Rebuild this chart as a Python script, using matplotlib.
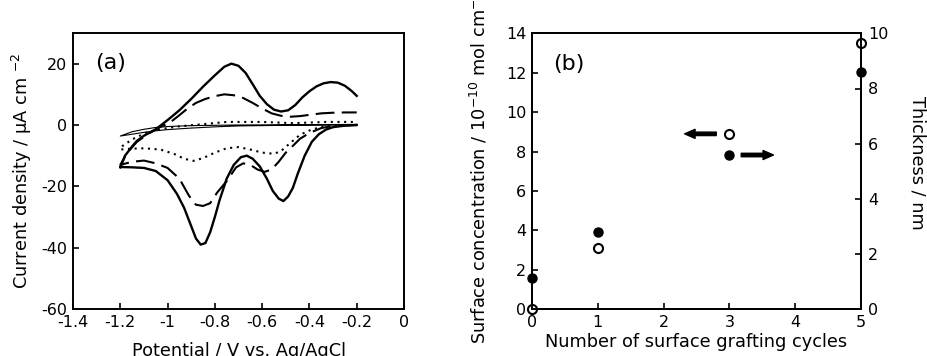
import numpy as np
import matplotlib
matplotlib.use('Agg')
import matplotlib.pyplot as plt

# DejaVu has the wide Helvetica-ish metrics of the original
plt.rcParams['font.family'] = ['DejaVu Sans']
plt.rcParams['mathtext.default'] = 'regular'

# ---- panel (a): cyclic voltammograms (potential V, current uA/cm2) ----
# thick solid curve, cathodic sweep (-0.2 -> -1.2)
thick_low_x = [-0.2, -0.25, -0.3, -0.33, -0.36, -0.39, -0.42, -0.45, -0.47, -0.49, -0.51, -0.53,
               -0.555, -0.58, -0.61, -0.64, -0.665, -0.69, -0.72, -0.75, -0.78, -0.8, -0.82,
               -0.84, -0.86, -0.88, -0.9, -0.93, -0.96, -1.0, -1.05, -1.1, -1.15, -1.2]
thick_low_y = [0, -0.2, -0.7, -1.5, -3, -5.5, -10, -16, -20.5, -23.3, -24.8, -24, -21.5, -17.5,
               -13.5, -11, -10, -10.5, -13, -17.5, -24.5, -30, -35, -38.5, -39, -37, -33, -27,
               -22.5, -18, -15, -14, -13.8, -13.7]
# thick solid curve, anodic sweep (-1.2 -> -0.2)
thick_up_x = [-1.2, -1.18, -1.15, -1.13, -1.1, -1.05, -1.0, -0.95, -0.9, -0.85, -0.8, -0.76,
              -0.73, -0.7, -0.67, -0.64, -0.61, -0.58, -0.55, -0.52, -0.49, -0.46, -0.43, -0.4,
              -0.37, -0.34, -0.31, -0.28, -0.25, -0.22, -0.2]
thick_up_y = [-13.9, -10, -7, -5.2, -3.5, -1.4, 1.6, 4.8, 8.5, 12.5, 16.2, 19, 20, 19.3, 17,
              13.3, 9.5, 6.8, 5, 4.4, 4.8, 6.5, 9, 11, 12.6, 13.6, 14, 13.8, 12.8, 11, 9.5]

# dashed curve
dash_low_x = [-0.2, -0.3, -0.35, -0.4, -0.44, -0.47, -0.5, -0.53, -0.56, -0.59, -0.62, -0.65,
              -0.68, -0.71, -0.75, -0.79, -0.82, -0.85, -0.88, -0.91, -0.95, -1.0, -1.05, -1.1,
              -1.15, -1.2]
dash_low_y = [0, -0.3, -1, -2.6, -4.5, -6.8, -9, -12, -14.5, -15.3, -14.5, -13, -12.5, -13.8,
              -18.3, -22, -25.5, -26.4, -26, -23, -17.5, -14, -12.5, -11.6, -12, -13]
dash_up_x = [-1.2, -1.17, -1.13, -1.08, -1.03, -0.99, -0.95, -0.92, -0.88, -0.84, -0.8, -0.76,
             -0.72, -0.68, -0.64, -0.6, -0.56, -0.52, -0.48, -0.44, -0.4, -0.35, -0.3, -0.25, -0.2]
dash_up_y = [-13, -9, -5.5, -2.8, -0.6, 0.8, 3.2, 5.1, 7.2, 8.5, 9.4, 10, 9.7, 8.8, 7.2, 5.4,
             3.8, 3, 2.7, 2.9, 3.3, 3.8, 4, 4.1, 4.1]

# dotted curve
dot_low_x = [-0.2, -0.3, -0.36, -0.4, -0.44, -0.48, -0.52, -0.55, -0.6, -0.65, -0.7, -0.75,
             -0.8, -0.85, -0.89, -0.93, -0.97, -1.03, -1.1, -1.15, -1.2]
dot_low_y = [0, -0.2, -0.8, -1.8, -3.2, -5.8, -8.5, -9.4, -9, -8, -7.2, -7.6, -9, -10.8,
             -11.7, -11, -9.5, -8, -7.6, -7.7, -8]
dot_up_x = [-1.2, -1.19, -1.15, -1.09, -1.03, -0.96, -0.86, -0.75, -0.6, -0.47, -0.33, -0.2]
dot_up_y = [-8, -6.8, -4.7, -2.5, -1.4, -0.5, 0.2, 1.0, 1.0, 0.6, 1.0, 1.0]

# thin solid curve (blank)
thin_low_x = [-0.2, -0.5, -0.7, -0.8, -0.9, -1.0, -1.05, -1.1, -1.15, -1.2]
thin_low_y = [0, -0.1, -0.3, -0.6, -1.0, -1.5, -1.9, -2.4, -3.0, -3.6]
thin_up_x = [-1.2, -1.15, -1.1, -1.05, -1.0, -0.9, -0.7, -0.2]
thin_up_y = [-3.6, -2.2, -1.4, -0.8, -0.5, -0.2, 0, 0.2]

xticks_a = [-1.4, -1.2, -1.0, -0.8, -0.6, -0.4, -0.2, 0]
xticklabels_a = ["-1.4", "-1.2", "-1", "-0.8", "-0.6", "-0.4", "-0.2", "0"]
yticks_a = [-60, -40, -20, 0, 20]
yticklabels_a = ["-60", "-40", "-20", "0", "20"]

# ---- panel (b): surface concentration / thickness vs grafting cycles ----
cycles = [0, 1, 3, 5]
surface_conc = [0.0, 3.1, 8.9, 13.5]      # 1e-10 mol cm-2 (open)
thickness = [1.12, 2.81, 5.59, 8.61]      # nm (filled)

TICK = 11.5
LABEL = 12.8

fig = plt.figure(figsize=(9.27, 3.56), dpi=100)

# ---------------- (a) ----------------
ax = fig.add_axes([73 / 927, 1 - 309 / 356, 331 / 927, 276 / 356])
ax.plot(thin_low_x + thin_up_x, thin_low_y + thin_up_y, color='black', lw=0.8)
ax.plot(dot_low_x + dot_up_x, dot_low_y + dot_up_y, color='black', lw=1.5,
        linestyle=(0, (1, 2.2)))
ax.plot(dash_low_x + dash_up_x, dash_low_y + dash_up_y, color='black', lw=1.5,
        linestyle=(0, (9, 3.5)))
ax.plot(thick_low_x + thick_up_x, thick_low_y + thick_up_y, color='black', lw=1.7)

ax.set_xlim(-1.4, 0)
ax.set_ylim(-60, 30)
ax.set_xticks(xticks_a)
ax.set_xticklabels(xticklabels_a)
ax.set_yticks(yticks_a)
ax.set_yticklabels(yticklabels_a)
ax.tick_params(direction='in', length=4, width=1.2, labelsize=TICK, pad=4)
for s in ax.spines.values():
    s.set_linewidth(1.4)
ax.set_xlabel("Potential / V vs. Ag/AgCl", fontsize=LABEL)
ax.xaxis.set_label_coords(0.5, -0.118)
ax.set_ylabel("Current density / μA cm $^{-2}$", fontsize=LABEL, va='center')
ax.yaxis.set_label_coords(-0.155, 0.5)
ax.text(0.066, 0.891, "(a)", transform=ax.transAxes, fontsize=16, va='center', ha='left')

# ---------------- (b) ----------------
bx = fig.add_axes([532 / 927, 1 - 309.3 / 356, 329 / 927, 276 / 356])
bx2 = bx.twinx()
bx.plot(cycles, surface_conc, 'o', ms=6.5, mfc='white', mec='black', mew=1.5,
        clip_on=False, zorder=5)
bx2.plot(cycles, thickness, 'o', ms=6.5, mfc='black', mec='black', mew=1.0,
         clip_on=False, zorder=5)

bx.set_xlim(0, 5)
bx.set_ylim(0, 14)
bx2.set_ylim(0, 10)
bx.set_xticks(range(0, 6))
bx.set_yticks(range(0, 15, 2))
bx2.set_yticks(range(0, 11, 2))
bx.tick_params(direction='in', length=4, width=1.2, labelsize=TICK, pad=4)
bx2.tick_params(direction='in', length=4, width=1.2, labelsize=TICK, pad=5)
for s in list(bx.spines.values()) + list(bx2.spines.values()):
    s.set_linewidth(1.4)

bx.set_xlabel("Number of surface grafting cycles", fontsize=LABEL)
bx.xaxis.set_label_coords(0.5, -0.085)
bx.set_ylabel("Surface concentration / 10$^{-10}$ mol cm$^{-2}$", fontsize=LABEL, va='center')
bx.yaxis.set_label_coords(-0.16, 0.515)
bx2.set_ylabel("Thickness / nm", fontsize=LABEL, rotation=270, va='center')
bx2.yaxis.set_label_coords(1.173, 0.529)
bx.text(0.064, 0.888, "(b)", transform=bx.transAxes, fontsize=16, va='center', ha='left')

# arrows pointing to the axis each series belongs to
arrow = dict(arrowstyle='simple,head_length=0.75,head_width=0.65,tail_width=0.25',
             mutation_scale=10, color='black', shrinkA=0, shrinkB=0)
bx.annotate('', xy=(cycles[2] - 0.68, surface_conc[2]),
            xytext=(cycles[2] - 0.2, surface_conc[2]), arrowprops=arrow)
bx2.annotate('', xy=(cycles[2] + 0.67, thickness[2]),
             xytext=(cycles[2] + 0.18, thickness[2]), arrowprops=arrow)

fig.savefig("out.png", dpi=100)
